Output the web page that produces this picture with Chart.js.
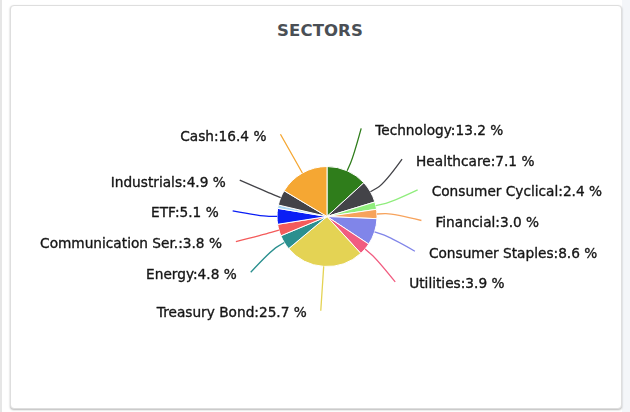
<!DOCTYPE html>
<html>
<head>
<meta charset="utf-8">
<script src="https://cdn.jsdelivr.net/npm/chart.js@4/dist/chart.umd.min.js"></script>
<style>
  html, body { margin: 0; padding: 0; background: #ffffff; }
  body { width: 630px; height: 412px; position: relative; overflow: hidden; }
  .edge-left { position: absolute; left: 0; top: 0; width: 2px; height: 412px; background: #e6e6e6; }
  .edge-right { position: absolute; left: 622px; top: 0; width: 8px; height: 412px; background: #f4f6f9; }
  .card { position: absolute; left: 10px; top: 5px; width: 610px; height: 402px;
          border: 1px solid #dedede; border-radius: 4px; background: #fff;
          box-shadow: 0 1px 2px rgba(0,0,0,0.28); }
  .title { position: absolute; left: 0; top: 21px; width: 640px; text-align: center;
           font: bold 16.5px "DejaVu Sans", sans-serif; color: #4a4f55; letter-spacing: 0.1px; }
  canvas { position: absolute; left: 0; top: 0; }
</style>
</head>
<body>
<div class="edge-left"></div>
<div class="edge-right"></div>
<div class="card"></div>
<div class="title">SECTORS</div>
<canvas id="c" width="630" height="412"></canvas>
<script>
const categories = ['Technology', 'Healthcare', 'Consumer Cyclical', 'Financial', 'Consumer Staples',
  'Utilities', 'Treasury Bond', 'Energy', 'Communication Ser.', 'ETF', 'Other', 'Industrials', 'Cash'];
const values = [13.2, 7.1, 2.4, 3.0, 8.6, 3.9, 25.7, 4.8, 3.8, 5.1, 1.1, 4.9, 16.4];
const colors = ['#2f7d1b', '#434348', '#90ed7d', '#f7a35c', '#8085e9', '#f15c80', '#e4d354',
  '#2b908f', '#f45b5b', '#0a1ef5', '#a9d6f2', '#434348', '#f5a733'];

const LABEL_FONT = '13.7px "DejaVu Sans", sans-serif';

const labelPlugin = {
  id: 'pieLabels',
  afterDatasetsDraw(chart) {
    const ctx = chart.ctx;
    const meta = chart.getDatasetMeta(0);
    const arcs = meta.data;
    if (!arcs.length) return;
    const cx = arcs[0].x, cy = arcs[0].y, r = arcs[0].outerRadius;
    const R = r + 44.5;       // label circle
    const brk = 8;            // connector break offset
    const D = 30.7;           // min label spacing
    const left = [], right = [];
    arcs.forEach((arc, i) => {
      if (values[i] < 2) return;
      const mid = (arc.startAngle + arc.endAngle) / 2;
      const item = { i, mid, target: cy + R * Math.sin(mid) };
      (Math.cos(mid) >= 0 ? right : left).push(item);
    });
    function distribute(items) {
      items.sort((a, b) => a.target - b.target);
      const groups = [];
      for (const it of items) {
        groups.push({ items: [it], top: it.target });
        while (groups.length > 1) {
          const g = groups[groups.length - 1], p = groups[groups.length - 2];
          if (p.top + p.items.length * D > g.top) {
            const merged = { items: p.items.concat(g.items) };
            let s = 0;
            merged.items.forEach((m, k) => { s += m.target - k * D; });
            merged.top = s / merged.items.length;
            groups.splice(-2, 2, merged);
          } else break;
        }
      }
      groups.forEach(g => g.items.forEach((m, k) => { m.y = g.top + k * D; }));
    }
    distribute(left);
    distribute(right);
    ctx.save();
    ctx.font = LABEL_FONT;
    ctx.textBaseline = 'middle';
    ctx.lineJoin = 'round';
    const drawSide = (items, sign) => {
      items.forEach(m => {
        const dy = m.y - cy;
        const ex = cx + sign * Math.sqrt(Math.max(R * R - dy * dy, 0));
        const ey = m.y;
        const tx = cx + r * Math.cos(m.mid), ty = cy + r * Math.sin(m.mid);
        const bx = cx + (r + brk) * Math.cos(m.mid), by = cy + (r + brk) * Math.sin(m.mid);
        ctx.strokeStyle = colors[m.i];
        ctx.lineWidth = 1.3;
        ctx.beginPath();
        ctx.moveTo(ex, ey);
        ctx.bezierCurveTo(ex, ey, 2 * bx - tx, 2 * by - ty, bx, by);
        ctx.lineTo(tx, ty);
        ctx.stroke();
        ctx.fillStyle = '#161616';
        ctx.strokeStyle = '#161616';
        ctx.lineWidth = 0.35;
        ctx.textAlign = sign > 0 ? 'left' : 'right';
        const text = categories[m.i] + ':' + values[m.i].toFixed(1) + ' %';
        const lx = ex + sign * 14, ly = ey + 3;
        ctx.fillText(text, lx, ly);
        ctx.strokeText(text, lx, ly);
      });
    };
    drawSide(right, 1);
    drawSide(left, -1);
    ctx.restore();
  }
};

new Chart(document.getElementById('c'), {
  type: 'pie',
  data: {
    labels: categories,
    datasets: [{
      data: values,
      backgroundColor: colors,
      borderColor: '#ffffff',
      borderWidth: 1,
      hoverOffset: 0,
      radius: 50
    }]
  },
  options: {
    responsive: false,
    animation: false,
    devicePixelRatio: 1,
    layout: { padding: { left: 24, right: 0, top: 21, bottom: 0 } },
    plugins: { legend: { display: false }, tooltip: { enabled: false }, title: { display: false } }
  },
  plugins: [labelPlugin]
});
</script>
</body>
</html>
